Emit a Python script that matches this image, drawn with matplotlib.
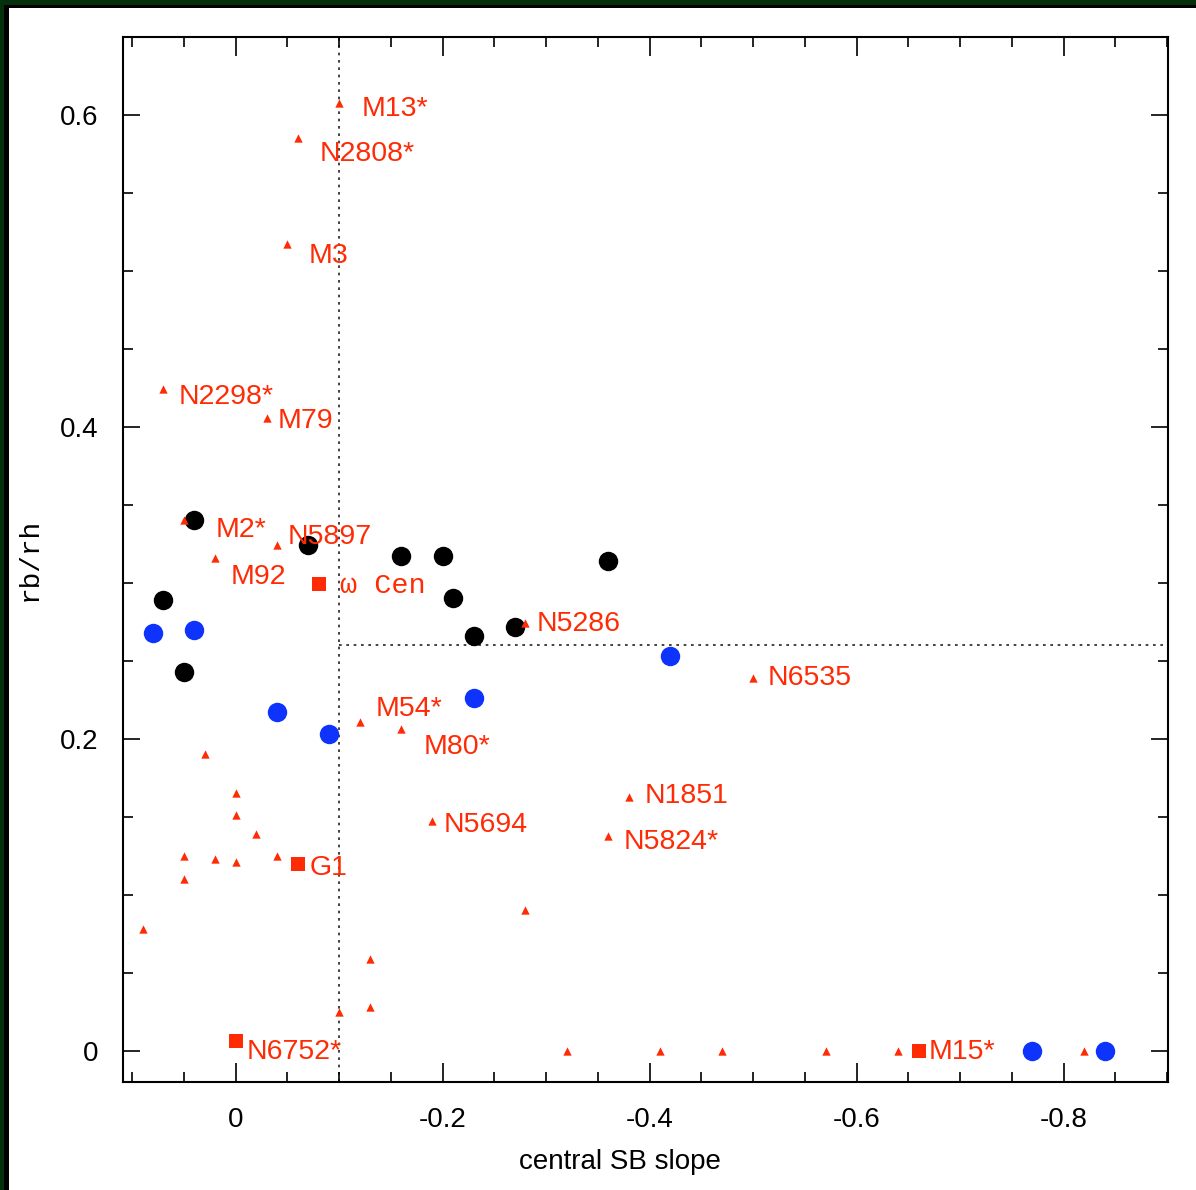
import matplotlib.pyplot as plt
from matplotlib.patches import Rectangle
from matplotlib.ticker import MultipleLocator, FuncFormatter

plt.rcParams['font.family'] = ['Liberation Sans', 'DejaVu Sans']
plt.rcParams['axes.unicode_minus'] = False

# labelled clusters (small red triangles)
tri_names = ['M13*', 'N2808*', 'M3', 'N2298*', 'M79', 'M2*', 'N5897', 'M92',
             'N5286', 'N6535', 'M54*', 'M80*', 'N1851', 'N5694', 'N5824*']
tri_x = [-0.10, -0.06, -0.05, 0.07, -0.03, 0.05, -0.04, 0.02,
         -0.28, -0.50, -0.12, -0.16, -0.38, -0.19, -0.36]
tri_y = [0.608, 0.585, 0.517, 0.424, 0.406, 0.340, 0.324, 0.316,
         0.274, 0.239, 0.211, 0.206, 0.163, 0.147, 0.138]

# unlabelled clusters
other_x = [0.03, 0.0, 0.0, -0.02, 0.05, 0.02, 0.0, -0.04, 0.05, 0.09,
           -0.13, -0.13, -0.10, -0.28,
           -0.32, -0.41, -0.47, -0.57, -0.64, -0.82]
other_y = [0.190, 0.165, 0.151, 0.139, 0.125, 0.123, 0.121, 0.125, 0.110, 0.078,
           0.059, 0.028, 0.025, 0.090,
           0.0, 0.0, 0.0, 0.0, 0.0, 0.0]

# massive clusters (red squares)
sq_names = ['ω Cen', 'G1', 'N6752*', 'M15*']
sq_x = [-0.08, -0.06, 0.0, -0.66]
sq_y = [0.299, 0.120, 0.006, 0.0]

# model points
black_x = [0.04, -0.07, -0.16, -0.20, -0.36, 0.07, -0.21, -0.27, -0.23, 0.05]
black_y = [0.340, 0.324, 0.317, 0.317, 0.314, 0.289, 0.290, 0.272, 0.266, 0.243]
blue_x = [0.08, 0.04, -0.42, -0.23, -0.04, -0.09, -0.77, -0.84]
blue_y = [0.268, 0.270, 0.253, 0.226, 0.217, 0.203, 0.0, 0.0]

# label offsets in pixels (dx, dy)
tri_off = {'M13*': (22, -6), 'N2808*': (22, -16), 'M3': (21, -12),
           'N2298*': (15, -8), 'M79': (11, -3), 'M2*': (32, -10),
           'N5897': (11, 8), 'M92': (16, -19), 'N5286': (11, -1),
           'N6535': (15, 0), 'M54*': (16, 13), 'M80*': (22, -18),
           'N1851': (16, 1), 'N5694': (11, -4), 'N5824*': (15, -6)}
sq_off = {'ω Cen': (21, -2), 'G1': (12, -4), 'N6752*': (11, -11), 'M15*': (10, -1)}

red = '#fe2b05'
blue = '#0d33fc'

fig = plt.figure(figsize=(11.96, 11.90), dpi=100)
ax = fig.add_axes([0.1028, 0.0908, 0.8738, 0.8781])

ax.axvline(-0.1, color='#222222', lw=1.2, ls=(0, (1.6, 2.8)), zorder=0)
ax.plot([-0.1, -0.92], [0.26, 0.26], color='#222222', lw=1.2,
        ls=(0, (1.6, 2.8)), zorder=0)

ax.scatter(black_x, black_y, s=196, c='black', linewidths=0, zorder=2)
ax.scatter(blue_x, blue_y, s=196, c=blue, linewidths=0, zorder=2)
ax.scatter(tri_x + other_x, tri_y + other_y, s=36, c=red, marker='^',
           linewidths=0, zorder=3)
ax.scatter(sq_x, sq_y, s=100, c=red, marker='s', linewidths=0, zorder=3)

for name, x, y in zip(tri_names, tri_x, tri_y):
    ax.annotate(name, (x, y), xytext=tri_off[name], textcoords='offset pixels',
                color=red, fontsize=20.5, ha='left', va='center')
for name, x, y in zip(sq_names, sq_x, sq_y):
    fam = ['Liberation Mono', 'DejaVu Sans Mono'] if name == 'ω Cen' else None
    ax.annotate(name, (x, y), xytext=sq_off[name], textcoords='offset pixels',
                color=red, fontsize=20.5, ha='left', va='center', family=fam)

ax.set_xlim(0.109, -0.901)
ax.set_ylim(-0.02, 0.65)

fmt = FuncFormatter(lambda v, p: '0' if abs(v) < 1e-9 else '%.1f' % v)
ax.xaxis.set_major_locator(MultipleLocator(0.2))
ax.xaxis.set_minor_locator(MultipleLocator(0.05))
ax.yaxis.set_major_locator(MultipleLocator(0.2))
ax.yaxis.set_minor_locator(MultipleLocator(0.05))
ax.xaxis.set_major_formatter(fmt)
ax.yaxis.set_major_formatter(fmt)

ax.tick_params(which='both', direction='in', top=True, right=True,
               width=1.2, labelsize=20)
ax.tick_params(axis='x', which='major', length=14, pad=18)
ax.tick_params(axis='y', which='major', length=12, pad=17.5)
ax.tick_params(which='minor', length=7)
for sp in ax.spines.values():
    sp.set_linewidth(1.5)

ax.set_xlabel('central SB slope', fontsize=20)
ax.xaxis.set_label_coords(0.4756, -0.064)
ax.set_ylabel('rb/rh', fontsize=20, family=['Liberation Mono', 'DejaVu Sans Mono'])
ax.yaxis.set_label_coords(-0.0766, 0.5)

# dark frame along the top and left edges
W, H = 1196.0, 1190.0
fig.add_artist(Rectangle((0, 0), 4 / W, 1, transform=fig.transFigure,
                         color='#04300c', lw=0))
fig.add_artist(Rectangle((4 / W, 0), 5 / W, 1 - 5 / H, transform=fig.transFigure,
                         color='black', lw=0))
fig.add_artist(Rectangle((0, 1 - 5 / H), 1, 5 / H, transform=fig.transFigure,
                         color='#04300c', lw=0))
fig.add_artist(Rectangle((4 / W, 1 - 8 / H), 1, 3 / H, transform=fig.transFigure,
                         color='black', lw=0))

fig.savefig('out.png', dpi=100)
